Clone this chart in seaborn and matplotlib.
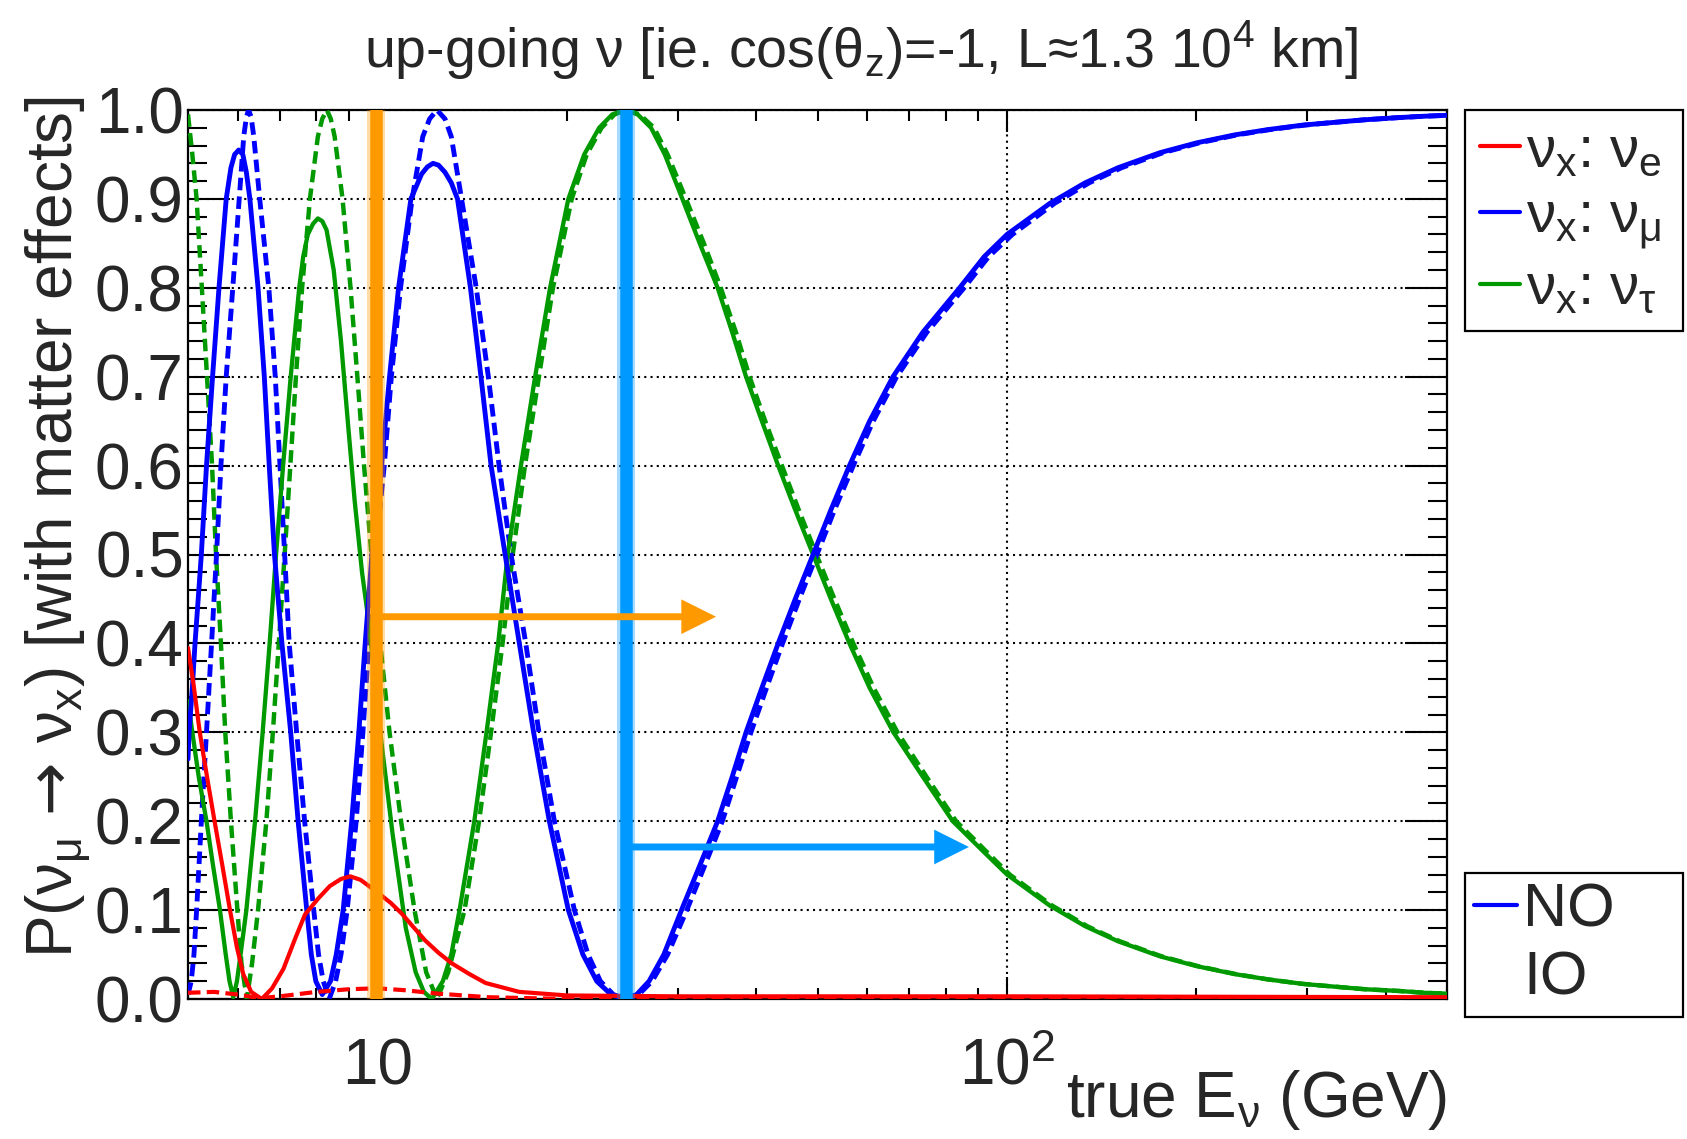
import matplotlib
matplotlib.use("Agg")
import matplotlib.pyplot as plt
from matplotlib.lines import Line2D
from matplotlib.ticker import FixedLocator, MultipleLocator, NullFormatter
import seaborn as sns

# values, energies in GeV
# nu_mu -> nu_mu, normal ordering (solid blue)
e_mu_no = [5.0, 5.02, 5.08, 5.13, 5.19, 5.25, 5.35, 5.47, 5.60, 5.75, 5.85, 5.93, 6.02,
           6.11, 6.19, 6.27, 6.46, 6.61, 6.73, 6.86, 7.05, 7.28, 7.48, 7.72, 7.85, 7.98,
           8.17, 8.42, 8.6, 8.82, 9.1, 9.34, 9.56, 9.8, 10.15, 10.45, 10.8, 11.3, 11.75,
           12.0, 12.25, 12.5, 12.8, 13.1, 13.4, 14.05, 14.6, 15.15, 15.95, 16.8, 17.7,
           18.75, 20.1, 21.2, 22.3, 23.5, 24.6, 25.8, 27.0, 28.5, 30.4, 32.5, 34.7, 36.6,
           38.5, 40.8, 43.3, 46.1, 49.2, 52.5, 56.2, 60.5, 65.9, 73.5, 84.1, 92, 100, 117,
           133, 150, 175, 200, 230, 260, 295, 330, 370, 420, 460, 500]
p_mu_no = [0.27, 0.30, 0.35, 0.40, 0.45, 0.50, 0.60, 0.70, 0.80, 0.90, 0.935, 0.95, 0.955,
           0.95, 0.93, 0.90, 0.80, 0.70, 0.60, 0.50, 0.40, 0.30, 0.20, 0.10, 0.05, 0.02,
           0.005, 0.02, 0.05, 0.10, 0.20, 0.30, 0.40, 0.50, 0.60, 0.70, 0.80, 0.90, 0.928,
           0.936, 0.94, 0.938, 0.93, 0.918, 0.90, 0.80, 0.70, 0.60, 0.50, 0.40, 0.30,
           0.20, 0.10, 0.05, 0.02, 0.005, 0.0, 0.005, 0.02, 0.05, 0.10, 0.15, 0.20, 0.25,
           0.30, 0.35, 0.40, 0.45, 0.50, 0.55, 0.60, 0.65, 0.70, 0.75, 0.80, 0.835, 0.86, 0.895,
           0.918, 0.935, 0.952, 0.963, 0.972, 0.978, 0.983, 0.986, 0.989, 0.9915, 0.993, 0.994]

# nu_mu -> nu_mu, inverted ordering (dashed blue)
e_mu_io = [5.0, 5.06, 5.11, 5.16, 5.25, 5.35, 5.45, 5.55, 5.64, 5.75, 5.89, 6.03, 6.13,
           6.19, 6.24, 6.30, 6.36, 6.5, 6.72, 6.88, 7.0, 7.12, 7.24, 7.44, 7.66, 7.92,
           8.06, 8.2, 8.38, 8.58, 8.75, 8.95, 9.25, 9.48, 9.69, 9.92, 10.25, 10.52, 10.88,
           11.35, 11.8, 12.1, 12.43, 12.8, 13.1, 13.6, 14.35, 15.0, 15.6, 16.3, 17.2, 18.05,
           19.1, 20.55, 21.6, 22.6, 23.7, 24.8, 26.0, 27.3, 28.9, 31.0, 33.1, 35.3, 37.2,
           39.2, 41.5, 44.0, 46.8, 49.9, 53.2, 57.0, 61.3, 66.8, 74.6, 85.5, 93.5, 102, 119,
           135, 152, 177, 202, 232, 262, 297, 330, 370, 420, 460, 500]
p_mu_io = [0.005, 0.02, 0.05, 0.10, 0.20, 0.30, 0.40, 0.50, 0.60, 0.70, 0.80, 0.90, 0.97,
           0.992, 1.0, 0.992, 0.97, 0.90, 0.80, 0.70, 0.60, 0.50, 0.40, 0.30, 0.20, 0.10,
           0.05, 0.02, 0.0, 0.02, 0.05, 0.10, 0.20, 0.30, 0.40, 0.50, 0.60, 0.70, 0.80,
           0.90, 0.97, 0.99, 1.0, 0.99, 0.97, 0.90, 0.80, 0.70, 0.60, 0.50, 0.40, 0.30,
           0.20, 0.10, 0.05, 0.02, 0.005, 0.0, 0.005, 0.02, 0.05, 0.10, 0.15, 0.20, 0.25,
           0.30, 0.35, 0.40, 0.45, 0.50, 0.55, 0.60, 0.65, 0.70, 0.75, 0.80, 0.835, 0.86, 0.895,
           0.918, 0.935, 0.952, 0.963, 0.972, 0.978, 0.983, 0.986, 0.989, 0.9915, 0.993, 0.994]

# nu_mu -> nu_tau, normal ordering (solid green)
e_tau_no = [5.0, 5.08, 5.2, 5.35, 5.48, 5.62, 5.74, 5.82, 5.90, 5.98, 6.06, 6.19, 6.39,
            6.57, 6.74, 6.90, 7.08, 7.28, 7.51, 7.62, 7.75, 7.9, 8.04, 8.17, 8.3, 8.52,
            8.75, 8.97, 9.2, 9.45, 9.7, 10.14, 10.57, 11.09, 11.5, 11.85, 12.2, 12.7, 13.1,
            13.5, 14.25, 14.9, 15.55, 16.1, 16.9, 17.8, 18.8, 20.1, 21.3, 22.5, 23.6, 24.7,
            25.9, 27.2, 28.6, 30.5, 32.5, 34.7, 36.6, 38.5, 40.8, 43.3, 46.1, 49.2, 52.5,
            56.2, 60.5, 66.0, 73.5, 82.0, 92, 100, 117, 133, 150, 175, 200, 230, 260, 295,
            330, 370, 420, 460, 500]
p_tau_no = [0.335, 0.30, 0.25, 0.20, 0.15, 0.10, 0.05, 0.02, 0.002, 0.02, 0.05, 0.10, 0.20,
            0.30, 0.40, 0.50, 0.60, 0.70, 0.80, 0.835, 0.86, 0.872, 0.878, 0.875, 0.865, 0.82,
            0.74, 0.65, 0.56, 0.48, 0.42, 0.29, 0.185, 0.08, 0.03, 0.008, 0.0, 0.02, 0.05,
            0.10, 0.20, 0.30, 0.40, 0.50, 0.60, 0.70, 0.80, 0.90, 0.95, 0.98, 0.995, 1.0,
            0.995, 0.98, 0.95, 0.90, 0.85, 0.80, 0.75, 0.70, 0.65, 0.60, 0.55, 0.50, 0.45,
            0.40, 0.35, 0.30, 0.25, 0.20, 0.165, 0.14, 0.105, 0.082, 0.065, 0.048, 0.037,
            0.028, 0.022, 0.017, 0.014, 0.011, 0.009, 0.007, 0.006]

# nu_mu -> nu_tau, inverted ordering (dashed green)
e_tau_io = [5.0, 5.08, 5.16, 5.26, 5.36, 5.46, 5.54, 5.64, 5.73, 5.85, 5.99, 6.08, 6.2,
            6.32, 6.46, 6.66, 6.82, 6.97, 7.12, 7.27, 7.42, 7.59, 7.81, 8.04, 8.17, 8.31,
            8.43, 8.55, 8.8, 9.06, 9.29, 9.52, 9.78, 10.1, 10.45, 10.9, 11.45, 11.95, 12.43,
            12.95, 13.75, 14.5, 15.15, 15.8, 16.4, 17.15, 18.05, 19.0, 20.35, 21.5, 22.7,
            23.8, 24.8, 26.1, 27.5, 28.9, 30.9, 33.0, 35.1, 37.1, 39.0, 41.3, 43.9, 46.7,
            49.8, 53.2, 57.0, 61.4, 67.0, 74.5, 83.0, 93, 101, 118, 134, 151, 176, 201, 231,
            260, 295, 330, 370, 420, 460, 500]
p_tau_io = [0.995, 0.95, 0.90, 0.80, 0.70, 0.60, 0.50, 0.40, 0.30, 0.20, 0.10, 0.04, 0.0,
            0.04, 0.10, 0.20, 0.30, 0.40, 0.50, 0.60, 0.70, 0.80, 0.90, 0.97, 0.99, 1.0,
            0.99, 0.97, 0.90, 0.80, 0.70, 0.60, 0.50, 0.40, 0.30, 0.20, 0.10, 0.03, 0.0,
            0.03, 0.10, 0.20, 0.30, 0.40, 0.50, 0.60, 0.70, 0.80, 0.90, 0.95, 0.98,
            0.995, 1.0, 0.995, 0.98, 0.95, 0.90, 0.85, 0.80, 0.75, 0.70, 0.65, 0.60, 0.55,
            0.50, 0.45, 0.40, 0.35, 0.30, 0.25, 0.20, 0.165, 0.14, 0.105, 0.082, 0.065, 0.048,
            0.037, 0.028, 0.022, 0.017, 0.014, 0.011, 0.009, 0.007, 0.006]

# nu_mu -> nu_e, normal ordering (solid red)
e_e_no = [5.0, 5.1, 5.22, 5.36, 5.51, 5.67, 5.83, 5.98, 6.12, 6.3, 6.55, 6.8, 7.09, 7.4,
          7.67, 8.05, 8.4, 8.75, 9.05, 9.4, 10.04, 10.5, 10.93, 11.4, 11.9, 12.5, 13.13,
          14.0, 14.85, 16.8, 20, 30, 100, 500]
p_e_no = [0.395, 0.355, 0.30, 0.25, 0.20, 0.15, 0.10, 0.058, 0.028, 0.008, 0.0, 0.012,
          0.034, 0.068, 0.095, 0.113, 0.127, 0.135, 0.138, 0.134, 0.119, 0.108, 0.096,
          0.081, 0.066, 0.052, 0.040, 0.028, 0.018, 0.008, 0.004, 0.003, 0.003, 0.002]

# nu_mu -> nu_e, inverted ordering (dashed red)
e_e_io = [5.0, 5.5, 6.0, 6.5, 7.0, 8.0, 9.0, 10.0, 11.0, 12.5, 15.0, 20.0, 25.0, 35.0,
          100, 500]
p_e_io = [0.007, 0.008, 0.005, 0.001, 0.003, 0.008, 0.011, 0.012, 0.010, 0.006, 0.002,
          0.0, 0.0, 0.001, 0.001, 0.001]

# marked energies and arrows
band_orange = 9.93
band_blue = 24.8
arrow_orange = (9.93, 34.5, 0.43)
arrow_blue = (24.8, 87.0, 0.171)

RED, BLUE, GREEN = "#ff0000", "#0000ff", "#009900"
ORANGE, SKY = "#ff9900", "#0099ff"

sns.set_theme(style="white")
plt.rcParams["font.family"] = ["Liberation Sans", "DejaVu Sans"]
plt.rcParams["mathtext.fontset"] = "custom"
plt.rcParams["mathtext.rm"] = "Liberation Sans"
plt.rcParams["mathtext.it"] = "Liberation Sans"
plt.rcParams["mathtext.bf"] = "Liberation Sans:bold"
plt.rcParams["mathtext.sf"] = "DejaVu Sans"
plt.rcParams["lines.scale_dashes"] = False
plt.rcParams["axes.edgecolor"] = "black"
plt.rcParams["axes.linewidth"] = 1.6

W, H = 1687, 1139
fig = plt.figure(figsize=(W / 100, H / 100), dpi=100)
ax = fig.add_axes([188 / W, 1 - 999 / H, (1447 - 188) / W, (999 - 110) / H])

dash = (0, (9.0, 4.5))
curves = [
    (e_tau_io, p_tau_io, GREEN, dash, 3.2),
    (e_mu_io, p_mu_io, BLUE, dash, 3.5),
    (e_tau_no, p_tau_no, GREEN, "-", 3.1),
    (e_mu_no, p_mu_no, BLUE, "-", 3.5),
    (e_e_io, p_e_io, RED, dash, 3.0),
    (e_e_no, p_e_no, RED, "-", 3.0),
]
for ex, py, col, ls, lw in curves:
    sns.lineplot(x=ex, y=py, ax=ax, color=col, linestyle=ls, linewidth=lw,
                 estimator=None, sort=False, zorder=3)

ax.set_xscale("log")
ax.set_xlim(5, 500)
ax.set_ylim(0, 1)

# vertical marker bands and arrows
for xb, col in [(band_orange, ORANGE), (band_blue, SKY)]:
    ax.axvline(xb, color=col, lw=13, alpha=0.35, zorder=5)
    ax.axvline(xb, color=col, lw=9, zorder=5)
for (x0, x1, y), col in [(arrow_orange, ORANGE), (arrow_blue, SKY)]:
    ax.annotate("", xy=(x1, y), xytext=(x0, y), zorder=6,
                arrowprops=dict(arrowstyle="simple,head_length=1.0,head_width=1.0,tail_width=0.2",
                                mutation_scale=25, color=col, lw=0, shrinkA=0, shrinkB=0))

# ticks
ax.set_xticks([10, 100])
ax.set_xticklabels(["10", r"$10^2$"])
ax.xaxis.set_minor_locator(FixedLocator([5, 6, 7, 8, 9, 20, 30, 40, 50, 60, 70, 80, 90,
                                         200, 300, 400, 500]))
ax.xaxis.set_minor_formatter(NullFormatter())
yt = [i / 10 for i in range(11)]
ax.set_yticks(yt)
ax.set_yticklabels([f"{v:.1f}" for v in yt])
ax.yaxis.set_minor_locator(MultipleLocator(0.02))
ax.tick_params(which="both", direction="in", top=True, right=True, bottom=True, left=True,
               color="black", width=1.5)
ax.tick_params(axis="y", which="major", length=30, labelsize=46, pad=3)
ax.tick_params(axis="y", which="minor", length=14)
ax.tick_params(axis="x", which="major", length=16, labelsize=46, pad=28)
ax.tick_params(axis="x", which="minor", length=8)

ax.grid(True, which="major", color="black", linestyle=(0, (1.5, 3.0)), linewidth=1.5)
ax.set_axisbelow(False)
ax.set_xlabel("")
ax.set_ylabel("")

fig.text(861 / W, 1 - 50 / H, "up-going ν [ie. cos(θ$_z$)=-1, L≈1.3 10$^4$ km]",
         ha="center", va="center", fontsize=40)
fig.text(58 / W, 1 - 527 / H,
         r"P($\nu_\mu\,\mathsf{\rightarrow}\,\nu_x$) [with matter effects]",
         ha="center", va="center", rotation=90, fontsize=46)
fig.text(1447 / W, 1 - 1100 / H, r"true E$_\nu$ (GeV)", ha="right", va="center", fontsize=46)

# legends
h1 = [Line2D([], [], color=c, lw=3) for c in (RED, BLUE, GREEN)]
l1 = [r"$\nu_x$: $\nu_e$", r"$\nu_x$: $\nu_\mu$", r"$\nu_x$: $\nu_\tau$"]
leg1 = fig.legend(h1, l1, loc="upper left", bbox_to_anchor=(1465 / W, 1 - 326 / H, 218 / W, 216 / H),
                  mode="expand", fontsize=42, handlelength=0.7, handletextpad=0.1,
                  borderpad=0.25, labelspacing=0.2, borderaxespad=0, fancybox=False,
                  edgecolor="black", framealpha=1)
leg1.get_frame().set_linewidth(1.6)

h2 = [Line2D([], [], color=BLUE, lw=3), Line2D([], [], color="none", lw=3)]
leg2 = fig.legend(h2, ["NO", "IO"], loc="upper left",
                  bbox_to_anchor=(1465 / W, 1 - 1022 / H, 218 / W, 149 / H),
                  mode="expand", fontsize=44, handlelength=0.7, handletextpad=0.1,
                  borderpad=0.15, labelspacing=0.19, borderaxespad=0, fancybox=False,
                  edgecolor="black", framealpha=1)
leg2.get_frame().set_linewidth(1.6)

fig.savefig("out.png", dpi=100)
